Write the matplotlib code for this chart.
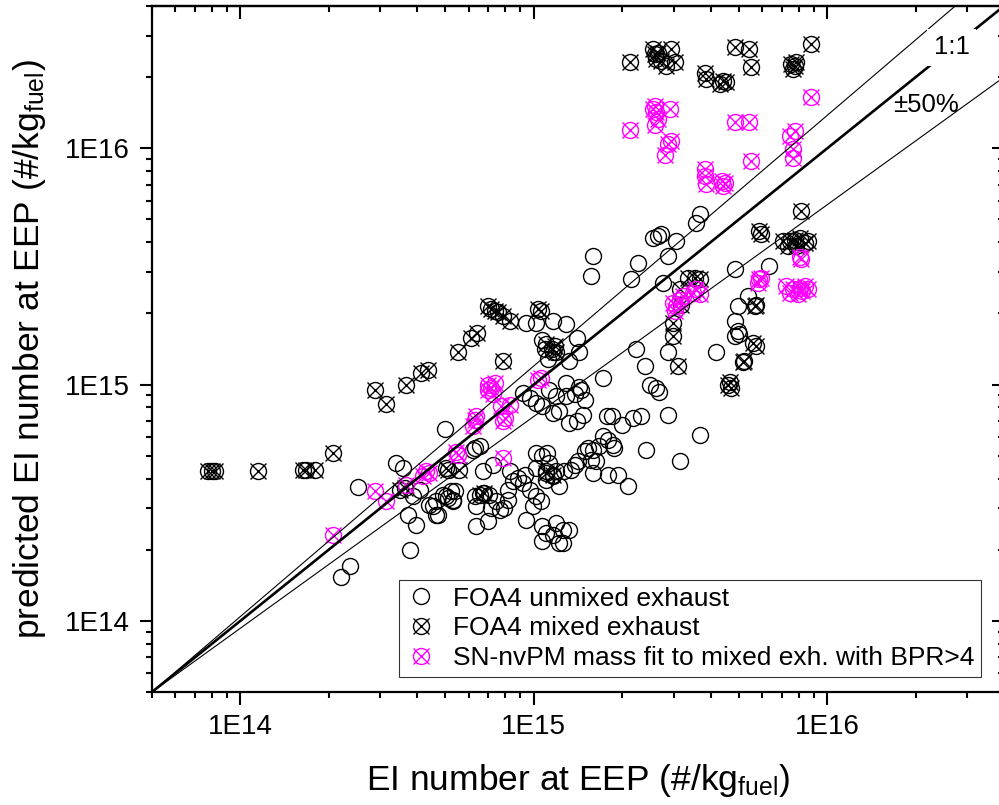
import numpy as np
import matplotlib
matplotlib.use("Agg")
import matplotlib.pyplot as plt
from matplotlib.path import Path
from matplotlib.ticker import LogLocator, FuncFormatter, NullFormatter

plt.rcParams['font.family'] = ['Liberation Sans', 'DejaVu Sans']
plt.rcParams['mathtext.default'] = 'regular'

# ---- data (EI number at EEP, predicted EI number), #/kg fuel ----
unmixed_x = [
    2.52e14, 2.36e14, 2.21e14, 3.40e14, 3.58e14, 3.72e14, 3.98e14, 3.78e14, 4.08e14, 3.87e14,
    4.53e14, 4.65e14, 4.97e14, 5.03e14, 5.30e14, 5.37e14, 6.28e14, 6.37e14, 6.37e14, 6.98e14,
    6.71e14, 7.26e14, 6.20e14, 6.53e14, 4.71e14, 4.65e14, 4.41e14, 4.90e14, 5.23e14, 5.30e14,
    5.10e14, 6.28e14, 6.71e14, 7.06e14, 7.45e14, 7.16e14, 7.64e14, 7.94e14, 8.17e14, 8.27e14,
    8.83e14, 9.31e14, 9.18e14, 8.50e14, 8.17e14, 9.68e14, 1.02e15, 1.06e15, 9.96e14, 9.42e14,
    1.02e15, 1.02e15, 1.07e15, 1.11e15, 1.13e15, 1.10e15, 1.16e15, 1.19e15, 1.10e15, 1.07e15,
    1.10e15, 1.07e15, 1.16e15, 1.22e15, 1.19e15, 1.26e15, 1.32e15, 1.26e15,
    1.72e15, 1.79e15, 1.86e15, 1.88e15, 1.67e15, 1.59e15, 1.53e15, 1.49e15, 1.41e15, 1.38e15,
    1.34e15, 1.27e15, 1.57e15, 1.63e15, 1.59e15, 1.79e15, 1.94e15, 2.09e15, 1.22e15,
    1.29e15, 1.38e15, 1.49e15, 1.45e15, 1.22e15, 1.32e15, 1.47e15, 1.40e15,
    1.77e15, 1.84e15, 1.99e15, 2.18e15, 2.32e15, 2.87e15, 3.67e15, 2.42e15, 3.14e15,
    9.42e14, 1.02e15, 1.16e15, 1.07e15, 1.09e15, 1.12e15, 1.16e15, 9.18e14, 9.68e14, 1.02e15,
    1.07e15, 1.16e15, 1.19e15, 1.13e15, 1.29e15, 1.40e15, 1.43e15, 1.32e15, 1.29e15, 1.43e15,
    2.23e15, 2.39e15, 2.87e15, 2.48e15, 2.61e15, 2.68e15, 1.72e15, 4.19e15,
    1.59e15, 1.57e15, 2.26e15, 2.15e15, 2.55e15, 2.65e15, 2.72e15, 3.05e15, 2.87e15, 2.75e15,
    3.57e15, 3.67e15,
    4.83e15, 6.35e15, 4.95e15, 5.36e15, 4.83e15, 4.95e15, 5.00e15, 4.83e15,
]
unmixed_y = [
    3.70e14, 1.71e14, 1.54e14, 4.66e14, 4.44e14, 2.81e14, 2.55e14, 1.99e14, 3.59e14, 3.36e14,
    3.05e14, 2.81e14, 6.50e14, 3.36e14, 3.26e14, 3.53e14, 3.36e14, 3.05e14, 2.51e14, 2.64e14,
    4.30e14, 4.58e14, 5.31e14, 5.48e14, 2.81e14, 3.20e14, 3.10e14, 3.42e14, 3.53e14, 3.20e14,
    3.31e14, 5.40e14, 3.48e14, 3.42e14, 3.20e14, 3.00e14, 2.95e14, 3.00e14, 3.26e14, 4.30e14,
    4.03e14, 4.16e14, 3.83e14, 3.89e14, 3.59e14, 3.59e14, 3.36e14, 3.20e14, 3.05e14, 2.68e14,
    4.44e14, 5.14e14, 4.97e14, 5.14e14, 4.66e14, 4.30e14, 4.09e14, 4.30e14, 3.95e14, 2.51e14,
    2.35e14, 2.17e14, 2.31e14, 2.13e14, 2.59e14, 2.43e14, 2.43e14, 2.13e14,
    6.04e14, 5.85e14, 5.57e14, 5.40e14, 5.48e14, 5.31e14, 5.40e14, 5.21e14, 4.73e14, 4.58e14,
    4.37e14, 4.30e14, 4.81e14, 4.73e14, 4.23e14, 4.16e14, 4.16e14, 3.71e14, 3.71e14,
    8.93e14, 9.10e14, 8.63e14, 9.50e14, 7.70e14, 6.89e14, 7.46e14, 7.00e14,
    7.35e14, 7.35e14, 6.76e14, 7.20e14, 7.35e14, 7.46e14, 6.14e14, 5.31e14, 4.73e14,
    1.82e15, 1.82e15, 1.86e15, 1.55e15, 1.41e15, 1.28e15, 1.38e15, 9.22e14, 8.80e14, 8.37e14,
    8.10e14, 7.60e14, 8.93e14, 9.50e14, 1.80e15, 1.58e15, 1.38e15, 1.26e15, 1.02e15, 9.80e14,
    1.41e15, 1.20e15, 1.38e15, 1.00e15, 9.65e14, 9.30e14, 1.07e15, 1.38e15,
    3.50e15, 2.88e15, 3.28e15, 2.79e15, 4.19e15, 4.25e15, 4.33e15, 4.05e15, 3.50e15, 2.70e15,
    4.84e15, 5.25e15,
    3.07e15, 3.17e15, 2.15e15, 2.37e15, 1.85e15, 1.68e15, 1.63e15, 1.60e15,
]

mixed_x = [
    7.74e13, 7.98e13, 8.17e13, 1.15e14, 1.63e14, 1.68e14, 1.79e14, 2.07e14, 2.87e14, 3.14e14,
    3.68e14, 4.14e14, 4.35e14, 5.50e14, 6.12e14, 6.40e14, 6.98e14, 7.16e14, 7.35e14, 7.55e14,
    7.85e14, 8.27e14, 7.85e14, 1.03e15, 1.06e15, 1.10e15, 1.15e15, 1.18e15, 1.19e15,
    3.49e14, 3.63e14, 5.03e14, 5.10e14, 5.58e14, 6.53e14, 6.77e14, 1.10e15, 1.16e15,
    2.98e15, 2.98e15, 3.10e15, 3.35e15, 3.53e15, 3.67e15, 3.14e15, 3.18e15,
    8.15e15, 5.87e15, 5.96e15, 7.06e15, 7.44e15, 7.74e15, 8.05e15, 8.37e15, 8.60e15, 7.84e15,
    7.35e15, 5.73e15, 5.65e15, 5.58e15, 5.73e15, 5.15e15, 5.22e15, 4.65e15, 4.58e15, 4.71e15,
    2.12e15, 2.55e15, 2.58e15, 2.65e15, 2.72e15, 2.94e15, 2.83e15, 3.02e15, 2.61e15, 3.82e15,
    3.87e15, 4.41e15, 4.53e15, 4.30e15, 4.83e15, 5.43e15, 5.51e15, 7.53e15, 7.74e15, 7.84e15,
    7.64e15, 8.81e15,
]
mixed_y = [
    4.30e14, 4.30e14, 4.30e14, 4.30e14, 4.35e14, 4.35e14, 4.35e14, 5.14e14, 9.45e14, 8.30e14,
    1.00e15, 1.12e15, 1.15e15, 1.37e15, 1.58e15, 1.66e15, 2.15e15, 2.09e15, 2.05e15, 2.02e15,
    1.95e15, 1.86e15, 1.26e15, 2.08e15, 2.05e15, 1.48e15, 1.41e15, 1.45e15, 1.38e15,
    3.59e14, 3.65e14, 4.44e14, 4.37e14, 4.37e14, 3.42e14, 3.48e14, 4.23e14, 4.16e14,
    1.82e15, 1.60e15, 1.20e15, 2.83e15, 2.83e15, 2.79e15, 2.53e15, 2.18e15,
    5.42e15, 4.47e15, 4.33e15, 4.05e15, 4.05e15, 4.11e15, 4.19e15, 3.98e15, 4.05e15, 3.85e15,
    3.85e15, 2.18e15, 2.15e15, 1.50e15, 1.45e15, 1.24e15, 1.26e15, 1.03e15, 1.00e15, 9.70e14,
    2.31e16, 2.63e16, 2.50e16, 2.54e16, 2.34e16, 2.63e16, 2.23e16, 2.31e16, 2.38e16, 2.09e16,
    1.96e16, 1.93e16, 1.90e16, 1.87e16, 2.67e16, 2.63e16, 2.20e16, 2.27e16, 2.23e16, 2.31e16,
    2.16e16, 2.76e16,
]

snfit_x = [
    2.12e15, 2.58e15, 2.55e15, 2.61e15, 2.90e15, 2.58e15, 2.65e15, 2.94e15, 2.87e15, 2.79e15,
    3.82e15, 3.82e15, 3.87e15, 4.36e15, 4.47e15, 4.41e15, 4.83e15, 5.43e15, 5.51e15, 8.81e15,
    7.74e15, 7.44e15, 7.64e15, 7.64e15,
    8.15e15, 8.05e15, 5.87e15, 5.80e15, 5.96e15, 7.25e15, 7.64e15, 8.05e15, 8.37e15, 7.44e15,
    7.94e15, 8.20e15, 8.60e15,
    2.98e15, 3.05e15, 3.14e15, 3.02e15, 3.22e15, 3.48e15, 3.57e15, 3.67e15,
    6.99e14, 6.98e14, 7.16e14, 7.25e14, 7.40e14, 7.72e14, 8.27e14, 7.95e14, 7.85e14, 1.03e15,
    1.06e15, 6.28e14, 6.20e14, 6.36e14,
    5.45e14, 5.50e14, 7.85e14, 4.30e14, 4.41e14, 4.19e14, 3.68e14, 3.14e14, 2.87e14, 2.07e14,
]
snfit_y = [
    1.20e16, 1.51e16, 1.47e16, 1.42e16, 1.47e16, 1.25e16, 1.33e16, 1.07e16, 1.04e16, 9.40e15,
    8.15e15, 7.64e15, 7.03e15, 7.26e15, 7.15e15, 6.92e15, 1.29e16, 1.29e16, 8.83e15, 1.64e16,
    1.18e16, 1.13e16, 9.90e15, 9.10e15,
    3.39e15, 3.45e15, 2.79e15, 2.70e15, 2.83e15, 2.61e15, 2.53e15, 2.57e15, 2.61e15, 2.45e15,
    2.41e15, 2.49e15, 2.53e15,
    2.22e15, 2.15e15, 2.29e15, 2.05e15, 2.37e15, 2.44e15, 2.53e15, 2.41e15,
    1.00e15, 9.50e14, 9.65e14, 9.10e14, 1.02e15, 8.10e14, 8.20e14, 7.20e14, 7.00e14, 1.05e15,
    1.07e15, 7.10e14, 6.66e14, 7.35e14,
    5.20e14, 5.05e14, 4.89e14, 4.30e14, 4.23e14, 4.09e14, 3.77e14, 3.20e14, 3.53e14, 2.31e14,
]

# reference lines: 1:1 and +/-50 %
ref_x = [5e13, 4e16]
ref_one = [5e13, 4e16]
ref_up = [5e13, 6e16]
ref_lo = [5e13, 2e16]

labels = ["FOA4 unmixed exhaust", "FOA4 mixed exhaust",
          "SN-nvPM mass fit to mixed exh. with BPR>4"]

# circle with a cross marker
circle_x = Path.make_compound_path(
    Path.unit_circle(),
    Path([(-1, -1), (1, 1), (-1, 1), (1, -1)],
         [Path.MOVETO, Path.LINETO, Path.MOVETO, Path.LINETO]))

fig = plt.figure(figsize=(9.99, 8.05), dpi=100)
ax = fig.add_axes([152 / 999, 113 / 805, 852 / 999, 686 / 805])

ms = 11.5
ax.plot(unmixed_x, unmixed_y, ls="none", marker="o", ms=ms, mfc="none",
        mec="black", mew=1.0, label=labels[0], zorder=3)
ax.plot(mixed_x, mixed_y, ls="none", marker=circle_x, ms=ms, mfc="none",
        mec="black", mew=1.0, label=labels[1], zorder=3)
ax.plot(snfit_x, snfit_y, ls="none", marker=circle_x, ms=ms, mfc="none",
        mec="#FF00FF", mew=1.0, label=labels[2], zorder=3)

ax.plot(ref_x, ref_one, color="black", lw=1.9, zorder=4)
ax.plot(ref_x, ref_up, color="black", lw=0.8, zorder=4)
ax.plot(ref_x, ref_lo, color="black", lw=0.8, zorder=4)

ax.text(2.65e16, 2.68e16, "1:1", fontsize=18.5, ha="center", va="center", zorder=5,
        bbox=dict(boxstyle="square,pad=0.25", fc="white", ec="none"))
ax.text(2.17e16, 1.53e16, "±50%", fontsize=18.5, ha="center", va="center", zorder=5)

ax.set_xscale("log")
ax.set_yscale("log")
ax.set_xlim(5e13, 4e16)
ax.set_ylim(5e13, 4e16)

fmt = FuncFormatter(lambda v, p: f"1E{int(round(np.log10(v)))}")
for axis in (ax.xaxis, ax.yaxis):
    axis.set_major_locator(LogLocator(base=10))
    axis.set_minor_locator(LogLocator(base=10, subs=np.arange(2, 10)))
    axis.set_major_formatter(fmt)
    axis.set_minor_formatter(NullFormatter())

ax.tick_params(which="both", direction="out", width=1.5, labelsize=20,
               top=False, right=False)
ax.tick_params(which="major", length=9, pad=7)
ax.tick_params(which="minor", length=4.5)
for sp in ax.spines.values():
    sp.set_linewidth(1.6)

# top and right ticks point inward, no labels
secx = ax.secondary_xaxis("top")
secy = ax.secondary_yaxis("right")
for sec, axis in ((secx, secx.xaxis), (secy, secy.yaxis)):
    axis.set_major_locator(LogLocator(base=10))
    axis.set_minor_locator(LogLocator(base=10, subs=np.arange(2, 10)))
    axis.set_major_formatter(NullFormatter())
    axis.set_minor_formatter(NullFormatter())
    sec.tick_params(which="both", direction="in", width=1.5)
    sec.tick_params(which="major", length=9)
    sec.tick_params(which="minor", length=4.5)
    for sp in sec.spines.values():
        sp.set_linewidth(1.6)

ax.set_xlabel("EI number at EEP (#/kg$_{fuel}$)", fontsize=25.5, labelpad=16)
ax.set_ylabel("predicted EI number at EEP (#/kg$_{fuel}$)", fontsize=25.5, labelpad=12)

leg = ax.legend(loc="upper left", bbox_to_anchor=(247 / 852, 112 / 686),
                fontsize=19, frameon=True, fancybox=False, edgecolor="black",
                borderaxespad=0, borderpad=0.25, labelspacing=0.22,
                handletextpad=0.6, handlelength=1.2)
leg.get_frame().set_linewidth(0.8)

fig.savefig("out.png", dpi=100)
